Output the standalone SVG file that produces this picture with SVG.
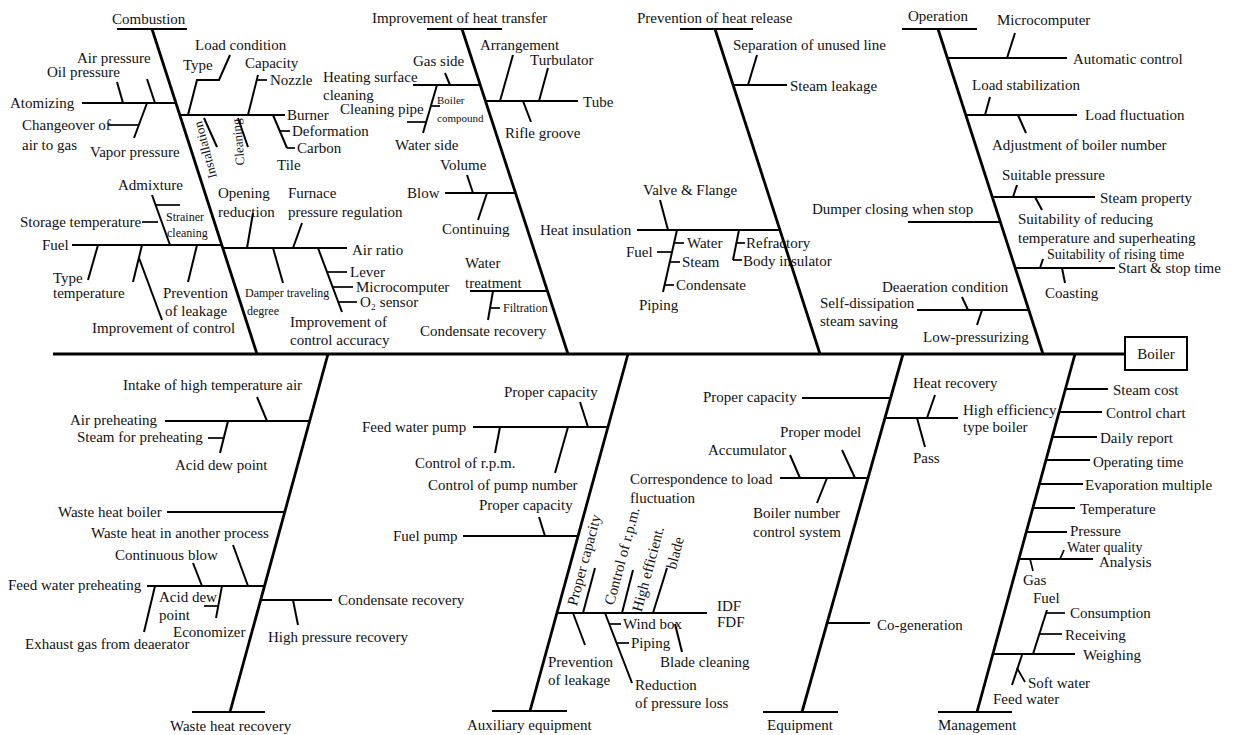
<svg xmlns="http://www.w3.org/2000/svg" width="1237" height="735" viewBox="0 0 1237 735">
<style>
text{font-family:"Liberation Serif","Times New Roman",serif;font-size:15px;fill:#111}
.sm{font-size:12px}
.b{stroke:#000;stroke-width:2.8;fill:none}
.l{stroke:#000;stroke-width:2;fill:none}
.k{stroke:#000;stroke-width:1.7;fill:none}
</style>
<rect width="1237" height="735" fill="#fff"/>
<g id="connectors">
<line class="b" x1="53" y1="354" x2="1125" y2="354" stroke-width="3"/>
</g>
<g id="boiler">
<rect x="1125" y="337" width="62" height="33" fill="#fff" stroke="#000" stroke-width="2"/>
<text x="1156" y="359" text-anchor="middle">Boiler</text>
</g>

<g id="combustion">
<text x="112" y="24">Combustion</text>
<line class="l" x1="117" y1="29" x2="187" y2="29"/>
<line class="b" x1="152" y1="29" x2="257" y2="354"/>
<line class="l" x1="82" y1="103" x2="176" y2="103"/>
<text x="10" y="108">Atomizing</text>
<line class="l" x1="147" y1="79" x2="155" y2="103"/><text x="77" y="63">Air pressure</text>
<line class="l" x1="117" y1="82" x2="123" y2="103"/><text x="47" y="77">Oil pressure</text>
<line class="l" x1="147" y1="103" x2="134" y2="138"/><text x="90" y="157">Vapor pressure</text>
<line class="k" x1="108" y1="125" x2="139" y2="125"/><text x="22" y="130">Changeover of</text><text x="22" y="150">air to gas</text>
<line class="l" x1="180" y1="115" x2="285" y2="115"/><text x="287" y="120">Burner</text>
<polyline class="l" points="188,115 197,80 219,80 230,55"/>
<text x="183" y="70">Type</text><text x="195" y="50">Load condition</text>
<line class="l" x1="248" y1="115" x2="258" y2="75"/><line class="k" x1="257" y1="80" x2="267" y2="80"/>
<text x="245" y="68">Capacity</text><text x="270" y="85">Nozzle</text>
<line class="l" x1="273" y1="115" x2="287" y2="148"/>
<line class="k" x1="280" y1="131" x2="290" y2="131"/><line class="k" x1="287" y1="148" x2="295" y2="148"/>
<text x="292" y="136">Deformation</text><text x="297" y="153">Carbon</text><text x="277" y="170">Tile</text>
<line class="l" x1="204" y1="118" x2="217" y2="147"/>
<line class="l" x1="238" y1="118" x2="248" y2="147"/>
<text transform="translate(205,150) rotate(-105)" text-anchor="middle" dominant-baseline="central" style="font-size:13px">Installation</text>
<text transform="translate(238,142) rotate(-95)" text-anchor="middle" dominant-baseline="central" style="font-size:13px">Cleaning</text>
<line class="l" x1="72" y1="245" x2="222" y2="245"/><text x="42" y="250">Fuel</text>
<line class="k" x1="142" y1="222" x2="158" y2="222"/><text x="20" y="227">Storage temperature</text>
<line class="l" x1="152" y1="195" x2="170" y2="245"/><text x="118" y="190">Admixture</text>
<line class="k" x1="156" y1="205" x2="180" y2="205"/>
<text class="sm" x="166" y="221">Strainer</text><text class="sm" x="167" y="237">cleaning</text>
<line class="l" x1="98" y1="245" x2="88" y2="280"/><text x="53" y="283">Type</text><text x="53" y="298">temperature</text>
<line class="l" x1="142" y1="245" x2="133" y2="282"/><line class="l" x1="139" y1="258" x2="162" y2="320"/>
<text x="92" y="333">Improvement of control</text>
<line class="l" x1="197" y1="245" x2="188" y2="282"/><text x="163" y="298">Prevention</text><text x="165" y="316">of leakage</text>
<line class="l" x1="223" y1="248" x2="347" y2="248"/><text x="352" y="255">Air ratio</text>
<line class="l" x1="247" y1="248" x2="253" y2="213"/><text x="218" y="198">Opening</text><text x="218" y="217">reduction</text>
<line class="l" x1="293" y1="248" x2="302" y2="223"/><text x="288" y="198">Furnace</text><text x="288" y="217">pressure regulation</text>
<line class="l" x1="273" y1="248" x2="283" y2="283"/><text class="sm" x="245" y="297">Damper traveling</text><text class="sm" x="247" y="315">degree</text>
<line class="l" x1="318" y1="248" x2="342" y2="312"/>
<line class="k" x1="327" y1="272" x2="347" y2="272"/><line class="k" x1="333" y1="287" x2="353" y2="287"/><line class="k" x1="338" y1="302" x2="357" y2="302"/>
<text x="350" y="277">Lever</text><text x="356" y="292">Microcomputer</text><text x="360" y="307">O₂ sensor</text>
<text x="290" y="327">Improvement of</text><text x="290" y="345">control accuracy</text>
</g>

<g id="heat-transfer">
<text x="372" y="23">Improvement of heat transfer</text>
<line class="l" x1="427" y1="29" x2="502" y2="29"/>
<line class="b" x1="462" y1="29" x2="568" y2="354"/>
<line class="l" x1="413" y1="85" x2="480" y2="85"/>
<line class="l" x1="445" y1="73" x2="450" y2="85"/><text x="413" y="66">Gas side</text>
<text x="323" y="82">Heating surface</text><text x="323" y="100">cleaning</text>
<line class="l" x1="437" y1="85" x2="423" y2="133"/><text x="395" y="150">Water side</text>
<line class="k" x1="407" y1="122" x2="426" y2="122"/><text x="340" y="114">Cleaning pipe</text>
<line class="k" x1="431" y1="106" x2="440" y2="106"/>
<text x="437" y="104" style="font-size:11px">Boiler</text><text x="437" y="122" style="font-size:11px">compound</text>
<line class="l" x1="485" y1="101" x2="578" y2="101"/><text x="583" y="107">Tube</text>
<line class="l" x1="500" y1="101" x2="513" y2="55"/><text x="480" y="50">Arrangement</text>
<line class="l" x1="539" y1="101" x2="548" y2="68"/><text x="530" y="65">Turbulator</text>
<line class="l" x1="523" y1="101" x2="531" y2="122"/><text x="505" y="138">Rifle groove</text>
<line class="l" x1="445" y1="193" x2="515" y2="193"/><text x="407" y="198">Blow</text>
<line class="l" x1="473" y1="193" x2="467" y2="175"/><text x="440" y="170">Volume</text>
<line class="l" x1="487" y1="193" x2="478" y2="220"/><text x="442" y="234">Continuing</text>
<line class="l" x1="470" y1="291" x2="547" y2="291"/><text x="465" y="268">Water</text><text x="465" y="288">treatment</text>
<line class="l" x1="493" y1="291" x2="488" y2="320"/><line class="k" x1="491" y1="308" x2="500" y2="308"/>
<text class="sm" x="503" y="312">Filtration</text>
<text x="420" y="336">Condensate recovery</text>
</g>

<g id="heat-release">
<text x="637" y="23">Prevention of heat release</text>
<line class="l" x1="680" y1="29" x2="753" y2="29"/>
<line class="b" x1="715" y1="29" x2="820" y2="354"/>
<line class="l" x1="733" y1="85" x2="787" y2="85"/><text x="790" y="91">Steam leakage</text>
<line class="l" x1="748" y1="85" x2="757" y2="55"/><text x="733" y="50">Separation of unused line</text>
<line class="l" x1="637" y1="230" x2="780" y2="230"/><text x="540" y="235">Heat insulation</text>
<line class="l" x1="668" y1="230" x2="660" y2="200"/><text x="643" y="195">Valve &amp; Flange</text>
<line class="l" x1="677" y1="230" x2="663" y2="292"/>
<line class="k" x1="674" y1="243" x2="684" y2="243"/><line class="k" x1="670" y1="262" x2="680" y2="262"/><line class="k" x1="665" y1="285" x2="674" y2="285"/><line class="k" x1="657" y1="252" x2="672" y2="252"/>
<text x="687" y="248">Water</text><text x="682" y="267">Steam</text><text x="676" y="290">Condensate</text><text x="626" y="257">Fuel</text><text x="639" y="310">Piping</text>
<line class="l" x1="739" y1="230" x2="733" y2="260"/>
<line class="k" x1="737" y1="243" x2="745" y2="243"/><line class="k" x1="733" y1="260" x2="742" y2="260"/>
<text x="746" y="248">Refractory</text><text x="743" y="266">Body insulator</text>
</g>

<g id="operation">
<text x="908" y="21">Operation</text>
<line class="l" x1="902" y1="29" x2="977" y2="29"/>
<line class="b" x1="938" y1="29" x2="1043" y2="354"/>
<line class="l" x1="947" y1="58" x2="1067" y2="58"/><text x="1073" y="64">Automatic control</text>
<line class="l" x1="1007" y1="58" x2="1015" y2="33"/><text x="997" y="25">Microcomputer</text>
<line class="l" x1="966" y1="115" x2="1077" y2="115"/><text x="1085" y="120">Load fluctuation</text>
<line class="l" x1="985" y1="115" x2="990" y2="97"/><text x="972" y="90">Load stabilization</text>
<line class="l" x1="1018" y1="115" x2="1026" y2="133"/><text x="992" y="150">Adjustment of boiler number</text>
<line class="l" x1="992" y1="197" x2="1095" y2="197"/><text x="1100" y="203">Steam property</text>
<line class="l" x1="1013" y1="197" x2="1017" y2="185"/><text x="1002" y="180">Suitable pressure</text>
<line class="l" x1="1035" y1="197" x2="1042" y2="210"/><text x="1018" y="224">Suitability of reducing</text><text x="1018" y="243">temperature and superheating</text>
<line class="l" x1="908" y1="222" x2="1000" y2="222"/><text x="812" y="214">Dumper closing when stop</text>
<line class="l" x1="1015" y1="268" x2="1115" y2="268"/><text x="1118" y="273">Start &amp; stop time</text>
<line class="l" x1="1040" y1="268" x2="1043" y2="259"/><text x="1047" y="259" style="font-size:14px">Suitability of rising time</text>
<line class="l" x1="1062" y1="268" x2="1065" y2="283"/><text x="1045" y="298">Coasting</text>
<line class="l" x1="917" y1="310" x2="1029" y2="310"/><text x="820" y="308">Self-dissipation</text><text x="820" y="326">steam saving</text>
<line class="l" x1="962" y1="297" x2="968" y2="310"/><text x="882" y="292">Deaeration condition</text>
<line class="l" x1="982" y1="310" x2="977" y2="325"/><text x="923" y="342">Low-pressurizing</text>
</g>

<g id="waste-heat-recovery">
<text x="170" y="731">Waste heat recovery</text>
<line class="l" x1="192" y1="712" x2="265" y2="712"/>
<line class="b" x1="230" y1="712" x2="328" y2="354"/>
<line class="l" x1="165" y1="421" x2="310" y2="421"/><text x="70" y="425">Air preheating</text>
<line class="l" x1="267" y1="421" x2="257" y2="397"/><text x="123" y="390">Intake of high temperature air</text>
<line class="l" x1="228" y1="421" x2="220" y2="453"/><line class="k" x1="208" y1="438" x2="224" y2="438"/>
<text x="77" y="442">Steam for preheating</text><text x="175" y="470">Acid dew point</text>
<line class="l" x1="167" y1="512" x2="285" y2="512"/><text x="58" y="517">Waste heat boiler</text>
<line class="l" x1="147" y1="586" x2="265" y2="586"/><text x="8" y="590">Feed water preheating</text>
<line class="l" x1="202" y1="586" x2="193" y2="563"/><text x="115" y="560">Continuous blow</text>
<line class="l" x1="248" y1="586" x2="233" y2="545"/><text x="91" y="538">Waste heat in another process</text>
<line class="l" x1="155" y1="586" x2="144" y2="632"/><text x="25" y="649">Exhaust gas from deaerator</text>
<line class="l" x1="222" y1="586" x2="216" y2="618"/><line class="k" x1="204" y1="606" x2="219" y2="606"/>
<text x="159" y="602">Acid dew</text><text x="159" y="620">point</text><text x="173" y="637">Economizer</text>
<line class="l" x1="261" y1="600" x2="332" y2="600"/><text x="338" y="605">Condensate recovery</text>
<line class="l" x1="293" y1="600" x2="298" y2="625"/><text x="268" y="642">High pressure recovery</text>
</g>

<g id="auxiliary-equipment">
<text x="467" y="730">Auxiliary equipment</text>
<line class="l" x1="492" y1="711" x2="567" y2="711"/>
<line class="b" x1="530" y1="711" x2="628" y2="354"/>
<line class="l" x1="473" y1="427" x2="608" y2="427"/><text x="362" y="432">Feed water pump</text>
<line class="l" x1="588" y1="427" x2="580" y2="402"/><text x="504" y="397">Proper capacity</text>
<line class="l" x1="500" y1="427" x2="495" y2="453"/><text x="415" y="468">Control of r.p.m.</text>
<line class="l" x1="568" y1="427" x2="555" y2="473"/><text x="428" y="490">Control of pump number</text>
<line class="l" x1="463" y1="536" x2="578" y2="536"/><text x="393" y="541">Fuel pump</text>
<line class="l" x1="545" y1="536" x2="539" y2="517"/><text x="479" y="510">Proper capacity</text>
<line class="l" x1="557" y1="613" x2="707" y2="613"/><text x="717" y="611">IDF</text><text x="717" y="627">FDF</text>
<line class="l" x1="583" y1="613" x2="595" y2="568"/>
<text transform="translate(584,560) rotate(-75)" text-anchor="middle" dominant-baseline="central">Proper capacity</text>
<line class="l" x1="622" y1="613" x2="633" y2="570"/>
<text transform="translate(622,556) rotate(-75)" text-anchor="middle" dominant-baseline="central">Control of r.p.m.</text>
<line class="l" x1="653" y1="613" x2="667" y2="568"/>
<text transform="translate(648,569) rotate(-75)" text-anchor="middle" dominant-baseline="central">High efficient.</text>
<text transform="translate(675,553) rotate(-75)" text-anchor="middle" dominant-baseline="central">blade</text>
<line class="l" x1="573" y1="613" x2="585" y2="645"/><text x="548" y="667">Prevention</text><text x="548" y="685">of leakage</text>
<line class="l" x1="605" y1="613" x2="632" y2="683"/>
<line class="k" x1="609" y1="624" x2="621" y2="624"/><line class="k" x1="617" y1="643" x2="629" y2="643"/>
<text x="623" y="629">Wind box</text><text x="631" y="648">Piping</text><text x="635" y="690">Reduction</text><text x="635" y="708">of pressure loss</text>
<line class="l" x1="675" y1="624" x2="682" y2="652"/><text x="660" y="667">Blade cleaning</text>
</g>

<g id="equipment">
<text x="767" y="730">Equipment</text>
<line class="l" x1="763" y1="712" x2="838" y2="712"/>
<line class="b" x1="802" y1="712" x2="903" y2="354"/>
<line class="l" x1="802" y1="398" x2="890" y2="398"/><text x="703" y="402">Proper capacity</text>
<line class="l" x1="885" y1="418" x2="958" y2="418"/>
<line class="l" x1="927" y1="418" x2="935" y2="395"/><text x="913" y="388">Heat recovery</text>
<line class="l" x1="917" y1="418" x2="925" y2="447"/><text x="913" y="463">Pass</text>
<text x="963" y="415">High efficiency</text><text x="963" y="432">type boiler</text>
<line class="l" x1="780" y1="478" x2="868" y2="478"/><text x="630" y="484">Correspondence to load</text><text x="630" y="503">fluctuation</text>
<line class="l" x1="800" y1="478" x2="790" y2="455"/><text x="708" y="455">Accumulator</text>
<line class="l" x1="855" y1="478" x2="842" y2="450"/><text x="780" y="437">Proper model</text>
<line class="l" x1="827" y1="478" x2="817" y2="503"/><text x="753" y="518">Boiler number</text><text x="753" y="537">control system</text>
<line class="l" x1="827" y1="623" x2="870" y2="623"/><text x="877" y="630">Co-generation</text>
</g>

<g id="management">
<text x="938" y="730">Management</text>
<line class="l" x1="938" y1="712" x2="1012" y2="712"/>
<line class="b" x1="977" y1="712" x2="1075" y2="354"/>
<line class="l" x1="1065" y1="389" x2="1108" y2="389"/><text x="1113" y="395">Steam cost</text>
<line class="l" x1="1059" y1="412" x2="1102" y2="412"/><text x="1106" y="418">Control chart</text>
<line class="l" x1="1052" y1="437" x2="1097" y2="437"/><text x="1100" y="443">Daily report</text>
<line class="l" x1="1046" y1="460" x2="1090" y2="460"/><text x="1093" y="467">Operating time</text>
<line class="l" x1="1039" y1="484" x2="1083" y2="484"/><text x="1085" y="490">Evaporation multiple</text>
<line class="l" x1="1033" y1="508" x2="1075" y2="508"/><text x="1080" y="514">Temperature</text>
<line class="l" x1="1026" y1="532" x2="1067" y2="532"/><text x="1070" y="536">Pressure</text>
<line class="l" x1="1019" y1="559" x2="1093" y2="559"/><text x="1067" y="552" style="font-size:14px">Water quality</text><text x="1099" y="567">Analysis</text>
<line class="k" x1="1060" y1="559" x2="1064" y2="550"/>
<line class="k" x1="1030" y1="559" x2="1033" y2="571"/><text x="1023" y="585">Gas</text>
<line class="l" x1="993" y1="654" x2="1075" y2="654"/><text x="1083" y="660">Weighing</text>
<line class="l" x1="1033" y1="654" x2="1047" y2="610"/>
<line class="k" x1="1046" y1="613" x2="1065" y2="613"/><line class="k" x1="1039" y1="634" x2="1062" y2="634"/>
<text x="1070" y="618">Consumption</text><text x="1065" y="640">Receiving</text><text x="1033" y="603">Fuel</text>
<line class="l" x1="1022" y1="655" x2="1012" y2="685"/><line class="k" x1="1017" y1="668" x2="1025" y2="682"/>
<text x="1028" y="688">Soft water</text><text x="993" y="704">Feed water</text>
</g>
</svg>
